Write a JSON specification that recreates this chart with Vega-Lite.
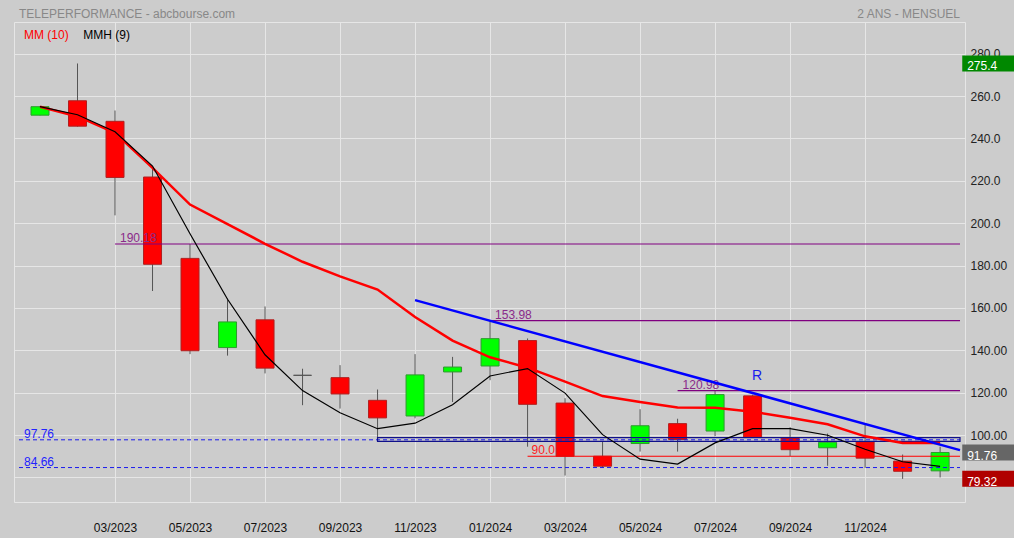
{
  "$schema": "https://vega.github.io/schema/vega-lite/v6.json",
  "autosize": {"type": "none"},
  "width": 951,
  "height": 480,
  "padding": {"left": 14, "top": 22, "right": 49, "bottom": 36},
  "background": "#cccccc",
  "config": {
    "view": {"stroke": "#e6e6e6", "strokeWidth": 1},
    "font": "Liberation Sans",
    "text": {"font": "Liberation Sans", "fontSize": 12}
  },
  "datasets": {
    "candles": [
      {"t": 0, "month": "01/2023", "open": 251.0, "high": 255.3, "low": 250.9, "close": 255.0},
      {"t": 1, "month": "02/2023", "open": 257.8, "high": 275.4, "low": 245.6, "close": 245.8},
      {"t": 2, "month": "03/2023", "open": 248.1, "high": 253.2, "low": 203.7, "close": 221.6},
      {"t": 3, "month": "04/2023", "open": 221.8, "high": 225.7, "low": 168.0, "close": 180.6},
      {"t": 4, "month": "05/2023", "open": 183.4, "high": 190.18, "low": 138.2, "close": 139.8},
      {"t": 5, "month": "06/2023", "open": 141.3, "high": 164.4, "low": 137.5, "close": 153.4},
      {"t": 6, "month": "07/2023", "open": 154.4, "high": 160.7, "low": 129.1, "close": 131.6},
      {"t": 7, "month": "08/2023", "open": 128.2, "high": 131.3, "low": 114.1, "close": 128.2},
      {"t": 8, "month": "09/2023", "open": 127.1, "high": 133.0, "low": 112.5, "close": 119.4},
      {"t": 9, "month": "10/2023", "open": 116.4, "high": 121.5, "low": 97.76, "close": 108.1},
      {"t": 10, "month": "11/2023", "open": 109.0, "high": 138.2, "low": 107.9, "close": 128.4},
      {"t": 11, "month": "12/2023", "open": 129.8, "high": 136.9, "low": 115.6, "close": 132.1},
      {"t": 12, "month": "01/2024", "open": 132.6, "high": 153.98, "low": 125.9, "close": 145.5},
      {"t": 13, "month": "02/2024", "open": 144.6, "high": 145.6, "low": 94.5, "close": 114.5},
      {"t": 14, "month": "03/2024", "open": 115.1, "high": 117.4, "low": 80.9, "close": 90.0},
      {"t": 15, "month": "04/2024", "open": 90.0, "high": 96.8, "low": 84.66, "close": 85.3},
      {"t": 16, "month": "05/2024", "open": 96.0, "high": 112.2, "low": 92.2, "close": 104.4},
      {"t": 17, "month": "06/2024", "open": 105.4, "high": 107.7, "low": 92.2, "close": 97.9},
      {"t": 18, "month": "07/2024", "open": 101.9, "high": 120.98, "low": 99.4, "close": 119.1},
      {"t": 19, "month": "08/2024", "open": 118.5, "high": 119.0, "low": 98.8, "close": 99.0},
      {"t": 20, "month": "09/2024", "open": 98.6, "high": 103.7, "low": 90.1, "close": 93.1},
      {"t": 21, "month": "10/2024", "open": 94.0, "high": 100.7, "low": 85.5, "close": 96.6},
      {"t": 22, "month": "11/2024", "open": 96.8, "high": 104.8, "low": 84.5, "close": 89.1},
      {"t": 23, "month": "12/2024", "open": 87.7, "high": 90.8, "low": 79.32, "close": 82.9},
      {"t": 24, "month": "01/2025", "open": 83.1, "high": 94.5, "low": 80.0, "close": 91.76}
    ],
    "averages": [
      {"t": 0, "mm10": 255.0, "mmh9": 255.0},
      {"t": 1, "mm10": 250.4, "mmh9": 251.2},
      {"t": 2, "mm10": 242.7, "mmh9": 243.2},
      {"t": 3, "mm10": 226.1, "mmh9": 227.0},
      {"t": 4, "mm10": 208.8, "mmh9": 195.0},
      {"t": 5, "mm10": 199.6, "mmh9": 164.1},
      {"t": 6, "mm10": 190.3, "mmh9": 137.9},
      {"t": 7, "mm10": 181.8, "mmh9": 121.0},
      {"t": 8, "mm10": 174.9, "mmh9": 110.5},
      {"t": 9, "mm10": 168.7, "mmh9": 103.0},
      {"t": 10, "mm10": 155.7, "mmh9": 105.6},
      {"t": 11, "mm10": 144.6, "mmh9": 114.3},
      {"t": 12, "mm10": 136.7, "mmh9": 127.9},
      {"t": 13, "mm10": 131.8, "mmh9": 131.4},
      {"t": 14, "mm10": 125.2, "mmh9": 119.8},
      {"t": 15, "mm10": 118.4, "mmh9": 100.2},
      {"t": 16, "mm10": 115.6, "mmh9": 88.6},
      {"t": 17, "mm10": 113.0, "mmh9": 86.3},
      {"t": 18, "mm10": 112.9, "mmh9": 96.3},
      {"t": 19, "mm10": 111.0, "mmh9": 103.0},
      {"t": 20, "mm10": 108.2, "mmh9": 103.0},
      {"t": 21, "mm10": 105.1, "mmh9": 99.9},
      {"t": 22, "mm10": 99.4, "mmh9": 93.3},
      {"t": 23, "mm10": 96.3, "mmh9": 87.4},
      {"t": 24, "mm10": 96.3, "mmh9": 85.2}
    ],
    "levels": [
      {"v": 190.18, "from": 2, "label": "190.18"},
      {"v": 153.98, "from": 12, "label": "153.98"},
      {"v": 120.98, "from": 17, "label": "120.98"}
    ],
    "dashed": [
      {"v": 97.76, "label": "97.76"},
      {"v": 84.66, "label": "84.66"}
    ],
    "redlevel": [{"v": 90.0, "from": 13, "label": "90.0"}],
    "zone": [{"from": 9, "lo": 97.0, "hi": 98.8}],
    "trend": [{"t": 10, "v": 163.7}, {"t": 24.53, "v": 92.9}],
    "badges": [
      {"v": 275.4, "label": "275.4", "kind": "high"},
      {"v": 91.76, "label": "91.76", "kind": "last"},
      {"v": 79.32, "label": "79.32", "kind": "low"}
    ]
  },
  "layer": [
    {
      "data": {"name": "candles"},
      "mark": {"type": "rule", "color": "#555555", "strokeWidth": 1},
      "encoding": {
        "x": {
          "field": "t", "type": "quantitative",
          "scale": {"domain": [-0.56, 24.53], "nice": false, "zero": false},
          "axis": {
            "orient": "bottom", "title": null, "values": [2, 4, 6, 8, 10, 12, 14, 16, 18, 20, 22],
            "labelExpr": "(datum.value % 12 < 9 ? '0' : '') + (datum.value % 12 + 1) + '/' + (2023 + floor(datum.value / 12))",
            "grid": true, "gridColor": "#e6e6e6", "gridWidth": 1, "domain": false, "ticks": false,
            "labelFont": "Liberation Sans", "labelFontSize": 12, "labelColor": "#111111",
            "labelPadding": 20, "labelDx": 4, "labelFlush": false
          }
        },
        "y": {
          "field": "low", "type": "quantitative",
          "scale": {"domain": [70.76, 292.62], "nice": false, "zero": false},
          "axis": {
            "orient": "right", "title": null, "values": [80, 100, 120, 140, 160, 180, 200, 220, 240, 260, 280],
            "labelExpr": "datum.value == 80 ? '' : (datum.value >= 200 ? format(datum.value, '.1f') : format(datum.value, '.2f'))",
            "grid": true, "gridColor": "#e6e6e6", "gridWidth": 1, "domain": false, "ticks": false,
            "labelFont": "Liberation Sans", "labelFontSize": 12, "labelColor": "#222222",
            "labelPadding": 5, "labelAlign": "left", "labelDy": -3.5, "labelFlush": false
          }
        },
        "y2": {"field": "high"}
      }
    },
    {
      "data": {"name": "candles"},
      "mark": {"type": "bar", "size": 18, "strokeWidth": 1},
      "encoding": {
        "x": {"field": "t", "type": "quantitative"},
        "y": {"field": "open", "type": "quantitative"},
        "y2": {"field": "close"},
        "fill": {
          "condition": [
            {"test": "datum.close == datum.open", "value": "#555555"},
            {"test": "datum.close > datum.open", "value": "#00ff00"}
          ],
          "value": "#ff0000"
        },
        "stroke": {
          "condition": [
            {"test": "datum.close == datum.open", "value": "#555555"},
            {"test": "datum.close > datum.open", "value": "#2e9a2e"}
          ],
          "value": "#b02020"
        }
      }
    },
    {
      "data": {"name": "dashed"},
      "mark": {"type": "rule", "color": "#1a1aee", "strokeWidth": 1, "strokeDash": [4, 3]},
      "encoding": {
        "x": {"datum": -0.56, "type": "quantitative"},
        "x2": {"datum": 24.53},
        "y": {"field": "v", "type": "quantitative"}
      }
    },
    {
      "data": {"name": "dashed"},
      "mark": {"type": "text", "color": "#2222ff", "align": "left", "baseline": "alphabetic", "dx": 5, "dy": -2, "fontSize": 12},
      "encoding": {
        "x": {"datum": -0.56, "type": "quantitative"},
        "y": {"field": "v", "type": "quantitative"},
        "text": {"field": "label"}
      }
    },
    {
      "data": {"name": "zone"},
      "mark": {"type": "rect", "fill": null, "fillOpacity": 0, "stroke": "#10108a", "strokeWidth": 1.2},
      "encoding": {
        "x": {"field": "from", "type": "quantitative"},
        "x2": {"datum": 24.53},
        "y": {"field": "lo", "type": "quantitative"},
        "y2": {"field": "hi"}
      }
    },
    {
      "data": {"name": "levels"},
      "mark": {"type": "rule", "color": "#800080", "strokeWidth": 1.2},
      "encoding": {
        "x": {"field": "from", "type": "quantitative"},
        "x2": {"datum": 24.53},
        "y": {"field": "v", "type": "quantitative"}
      }
    },
    {
      "data": {"name": "levels"},
      "mark": {"type": "text", "color": "#8a2a8a", "align": "left", "baseline": "alphabetic", "dx": 5, "dy": -2, "fontSize": 12},
      "encoding": {
        "x": {"field": "from", "type": "quantitative"},
        "y": {"field": "v", "type": "quantitative"},
        "text": {"field": "label"}
      }
    },
    {
      "data": {"name": "redlevel"},
      "mark": {"type": "rule", "color": "#ff0000", "strokeWidth": 1.2},
      "encoding": {
        "x": {"field": "from", "type": "quantitative"},
        "x2": {"datum": 24.53},
        "y": {"field": "v", "type": "quantitative"}
      }
    },
    {
      "data": {"name": "redlevel"},
      "mark": {"type": "text", "color": "#ff2020", "align": "left", "baseline": "alphabetic", "dx": 4, "dy": -2, "fontSize": 12},
      "encoding": {
        "x": {"field": "from", "type": "quantitative"},
        "y": {"field": "v", "type": "quantitative"},
        "text": {"field": "label"}
      }
    },
    {
      "data": {"name": "averages"},
      "mark": {"type": "line", "color": "#ff0000", "strokeWidth": 2.5},
      "encoding": {
        "x": {"field": "t", "type": "quantitative"},
        "y": {"field": "mm10", "type": "quantitative"}
      }
    },
    {
      "data": {"name": "averages"},
      "mark": {"type": "line", "color": "#000000", "strokeWidth": 1.2},
      "encoding": {
        "x": {"field": "t", "type": "quantitative"},
        "y": {"field": "mmh9", "type": "quantitative"}
      }
    },
    {
      "data": {"name": "trend"},
      "mark": {"type": "line", "color": "#0000ff", "strokeWidth": 2.5},
      "encoding": {
        "x": {"field": "t", "type": "quantitative"},
        "y": {"field": "v", "type": "quantitative"}
      }
    },
    {
      "data": {"values": [{"label": "R"}]},
      "mark": {"type": "text", "color": "#1a1aee", "fontSize": 14, "align": "center", "baseline": "middle"},
      "encoding": {
        "x": {"datum": 19.12, "type": "quantitative"},
        "y": {"datum": 127.9, "type": "quantitative"},
        "text": {"field": "label"}
      }
    },
    {
      "data": {"values": [{"label": "MM (10)"}]},
      "mark": {"type": "text", "color": "#ff0000", "fontSize": 12, "align": "left", "baseline": "middle"},
      "encoding": {
        "x": {"datum": -0.427, "type": "quantitative"},
        "y": {"datum": 288.9, "type": "quantitative"},
        "text": {"field": "label"}
      }
    },
    {
      "data": {"values": [{"label": "MMH (9)"}]},
      "mark": {"type": "text", "color": "#000000", "fontSize": 12, "align": "left", "baseline": "middle"},
      "encoding": {
        "x": {"datum": 1.156, "type": "quantitative"},
        "y": {"datum": 288.9, "type": "quantitative"},
        "text": {"field": "label"}
      }
    },
    {
      "data": {"values": [{"label": "TELEPERFORMANCE - abcbourse.com"}]},
      "mark": {"type": "text", "color": "#888888", "fontSize": 12, "align": "left", "baseline": "middle"},
      "encoding": {
        "x": {"datum": -0.56, "type": "quantitative"},
        "y": {"datum": 298.6, "type": "quantitative"},
        "text": {"field": "label"}
      }
    },
    {
      "data": {"values": [{"label": "2 ANS - MENSUEL"}]},
      "mark": {"type": "text", "color": "#888888", "fontSize": 12, "align": "right", "baseline": "middle"},
      "encoding": {
        "x": {"datum": 24.53, "type": "quantitative"},
        "y": {"datum": 298.6, "type": "quantitative"},
        "text": {"field": "label"}
      }
    },
    {
      "data": {"name": "badges"},
      "mark": {"type": "bar", "size": 16, "orient": "horizontal"},
      "encoding": {
        "x": {"datum": 24.59, "type": "quantitative"},
        "x2": {"datum": 26.0},
        "y": {"field": "v", "type": "quantitative"},
        "fill": {
          "field": "kind", "type": "nominal",
          "scale": {"domain": ["high", "last", "low"], "range": ["#008800", "#666666", "#b00000"]},
          "legend": null
        }
      }
    },
    {
      "data": {"name": "badges"},
      "mark": {"type": "text", "color": "#ffffff", "fontSize": 12, "align": "left", "baseline": "middle", "dy": 3},
      "encoding": {
        "x": {"datum": 24.72, "type": "quantitative"},
        "y": {"field": "v", "type": "quantitative"},
        "text": {"field": "label"}
      }
    }
  ]
}
